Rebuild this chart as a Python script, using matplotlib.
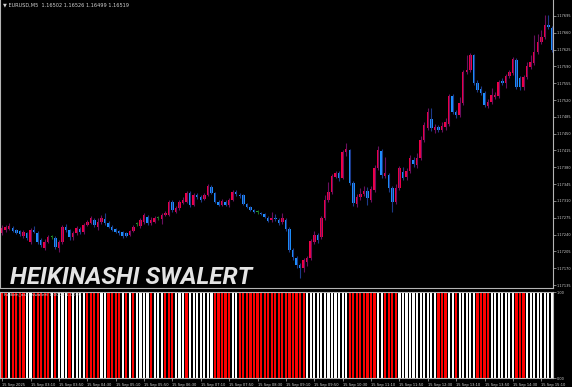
import matplotlib
matplotlib.use("Agg")
from matplotlib import pyplot as plt

# EURUSD M5 Heiken Ashi candles, 15 Sep 02:30 .. 15:25
opens = [1.17243, 1.17250, 1.17252, 1.17254, 1.17250, 1.17248, 1.17237, 1.17243, 1.17225, 1.17250,
         1.17243, 1.17229, 1.17212, 1.17225, 1.17235, 1.17233, 1.17212, 1.17225, 1.17256, 1.17250,
         1.17235, 1.17243, 1.17252, 1.17245, 1.17260, 1.17264, 1.17270, 1.17256, 1.17266, 1.17272,
         1.17264, 1.17256, 1.17252, 1.17248, 1.17245, 1.17243, 1.17239, 1.17248, 1.17262, 1.17258,
         1.17266, 1.17277, 1.17264, 1.17266, 1.17275, 1.17272, 1.17281, 1.17281, 1.17308, 1.17287,
         1.17295, 1.17306, 1.17308, 1.17327, 1.17302, 1.17322, 1.17318, 1.17314, 1.17322, 1.17339,
         1.17327, 1.17308, 1.17302, 1.17308, 1.17302, 1.17312, 1.17329, 1.17322, 1.17322, 1.17304,
         1.17297, 1.17291, 1.17287, 1.17285, 1.17283, 1.17275, 1.17270, 1.17275, 1.17270, 1.17266,
         1.17270, 1.17252, 1.17208, 1.17191, 1.17177, 1.17171, 1.17183, 1.17191, 1.17225, 1.17239,
         1.17235, 1.17275, 1.17312, 1.17329, 1.17360, 1.17368, 1.17358, 1.17412, 1.17416, 1.17347,
         1.17304, 1.17318, 1.17324, 1.17331, 1.17312, 1.17333, 1.17379, 1.17414, 1.17362, 1.17364,
         1.17337, 1.17308, 1.17337, 1.17370, 1.17360, 1.17372, 1.17395, 1.17385, 1.17399, 1.17437,
         1.17462, 1.17480, 1.17458, 1.17464, 1.17458, 1.17464, 1.17470, 1.17528, 1.17495, 1.17489,
         1.17514, 1.17578, 1.17582, 1.17614, 1.17555, 1.17543, 1.17535, 1.17508, 1.17516, 1.17526,
         1.17528, 1.17560, 1.17555, 1.17570, 1.17576, 1.17603, 1.17566, 1.17547, 1.17568, 1.17589,
         1.17597, 1.17620, 1.17641, 1.17651, 1.17676, 1.17670]
highs = [1.17260, 1.17260, 1.17264, 1.17258, 1.17252, 1.17250, 1.17250, 1.17245, 1.17254, 1.17258,
         1.17248, 1.17233, 1.17231, 1.17239, 1.17239, 1.17237, 1.17229, 1.17260, 1.17262, 1.17252,
         1.17248, 1.17258, 1.17256, 1.17264, 1.17270, 1.17279, 1.17275, 1.17275, 1.17281, 1.17285,
         1.17268, 1.17260, 1.17254, 1.17250, 1.17248, 1.17245, 1.17250, 1.17260, 1.17266, 1.17275,
         1.17285, 1.17281, 1.17277, 1.17279, 1.17279, 1.17285, 1.17289, 1.17312, 1.17312, 1.17300,
         1.17312, 1.17318, 1.17331, 1.17331, 1.17327, 1.17327, 1.17322, 1.17327, 1.17345, 1.17343,
         1.17329, 1.17312, 1.17314, 1.17312, 1.17316, 1.17333, 1.17333, 1.17327, 1.17324, 1.17306,
         1.17300, 1.17293, 1.17291, 1.17287, 1.17285, 1.17279, 1.17287, 1.17283, 1.17275, 1.17285,
         1.17275, 1.17256, 1.17212, 1.17196, 1.17181, 1.17191, 1.17196, 1.17231, 1.17248, 1.17243,
         1.17279, 1.17322, 1.17349, 1.17366, 1.17372, 1.17372, 1.17416, 1.17431, 1.17418, 1.17352,
         1.17324, 1.17337, 1.17341, 1.17339, 1.17341, 1.17385, 1.17424, 1.17418, 1.17401, 1.17368,
         1.17341, 1.17345, 1.17383, 1.17381, 1.17379, 1.17406, 1.17401, 1.17410, 1.17445, 1.17474,
         1.17503, 1.17503, 1.17470, 1.17468, 1.17474, 1.17483, 1.17532, 1.17532, 1.17499, 1.17526,
         1.17582, 1.17614, 1.17618, 1.17616, 1.17562, 1.17549, 1.17539, 1.17522, 1.17545, 1.17537,
         1.17562, 1.17566, 1.17574, 1.17582, 1.17609, 1.17607, 1.17570, 1.17572, 1.17599, 1.17614,
         1.17655, 1.17657, 1.17666, 1.17697, 1.17697, 1.17674]
lows = [1.17239, 1.17245, 1.17250, 1.17245, 1.17241, 1.17237, 1.17233, 1.17229, 1.17220, 1.17243,
        1.17220, 1.17214, 1.17208, 1.17223, 1.17231, 1.17210, 1.17204, 1.17220, 1.17245, 1.17229,
        1.17229, 1.17239, 1.17241, 1.17241, 1.17258, 1.17262, 1.17256, 1.17250, 1.17262, 1.17260,
        1.17254, 1.17248, 1.17243, 1.17239, 1.17233, 1.17235, 1.17237, 1.17245, 1.17258, 1.17254,
        1.17262, 1.17260, 1.17260, 1.17264, 1.17270, 1.17262, 1.17279, 1.17279, 1.17287, 1.17285,
        1.17291, 1.17304, 1.17306, 1.17297, 1.17300, 1.17314, 1.17308, 1.17312, 1.17320, 1.17324,
        1.17306, 1.17300, 1.17300, 1.17300, 1.17297, 1.17310, 1.17320, 1.17316, 1.17302, 1.17295,
        1.17289, 1.17285, 1.17283, 1.17281, 1.17275, 1.17266, 1.17266, 1.17268, 1.17260, 1.17262,
        1.17248, 1.17204, 1.17187, 1.17171, 1.17150, 1.17162, 1.17175, 1.17187, 1.17220, 1.17223,
        1.17231, 1.17270, 1.17308, 1.17324, 1.17358, 1.17352, 1.17356, 1.17404, 1.17343, 1.17300,
        1.17297, 1.17312, 1.17320, 1.17302, 1.17308, 1.17329, 1.17374, 1.17358, 1.17358, 1.17329,
        1.17287, 1.17304, 1.17333, 1.17354, 1.17354, 1.17368, 1.17381, 1.17379, 1.17395, 1.17433,
        1.17458, 1.17456, 1.17451, 1.17453, 1.17453, 1.17458, 1.17466, 1.17491, 1.17483, 1.17485,
        1.17510, 1.17574, 1.17578, 1.17551, 1.17537, 1.17530, 1.17505, 1.17503, 1.17512, 1.17522,
        1.17524, 1.17551, 1.17545, 1.17566, 1.17572, 1.17543, 1.17541, 1.17541, 1.17564, 1.17584,
        1.17593, 1.17616, 1.17636, 1.17647, 1.17668, 1.17620]
closes = [1.17254, 1.17256, 1.17258, 1.17248, 1.17243, 1.17241, 1.17245, 1.17233, 1.17250, 1.17245,
          1.17225, 1.17218, 1.17225, 1.17235, 1.17235, 1.17214, 1.17225, 1.17256, 1.17250, 1.17235,
          1.17243, 1.17254, 1.17245, 1.17260, 1.17266, 1.17275, 1.17260, 1.17266, 1.17275, 1.17264,
          1.17256, 1.17250, 1.17245, 1.17243, 1.17237, 1.17237, 1.17248, 1.17256, 1.17262, 1.17270,
          1.17281, 1.17264, 1.17270, 1.17275, 1.17275, 1.17281, 1.17285, 1.17308, 1.17291, 1.17295,
          1.17308, 1.17312, 1.17327, 1.17302, 1.17322, 1.17318, 1.17312, 1.17322, 1.17341, 1.17327,
          1.17308, 1.17302, 1.17310, 1.17302, 1.17312, 1.17329, 1.17324, 1.17320, 1.17304, 1.17297,
          1.17291, 1.17287, 1.17287, 1.17283, 1.17277, 1.17268, 1.17275, 1.17272, 1.17264, 1.17275,
          1.17252, 1.17208, 1.17193, 1.17177, 1.17171, 1.17187, 1.17191, 1.17227, 1.17239, 1.17229,
          1.17275, 1.17312, 1.17329, 1.17362, 1.17368, 1.17358, 1.17412, 1.17418, 1.17347, 1.17306,
          1.17318, 1.17324, 1.17331, 1.17316, 1.17335, 1.17379, 1.17416, 1.17364, 1.17368, 1.17337,
          1.17308, 1.17337, 1.17379, 1.17358, 1.17372, 1.17399, 1.17387, 1.17399, 1.17437, 1.17468,
          1.17495, 1.17462, 1.17464, 1.17458, 1.17466, 1.17474, 1.17528, 1.17495, 1.17489, 1.17514,
          1.17578, 1.17582, 1.17614, 1.17555, 1.17541, 1.17535, 1.17510, 1.17516, 1.17530, 1.17530,
          1.17557, 1.17555, 1.17570, 1.17578, 1.17605, 1.17547, 1.17547, 1.17568, 1.17591, 1.17599,
          1.17620, 1.17641, 1.17651, 1.17676, 1.17672, 1.17624]

# swalert sub-window: R = red bar, W = white bar
signal = ("RRWRRRRWWR" "RRRRWRWWWR" "WWWWRRRRWW" "RRRRWRWRWW" "WWRWWWRRRW"
          "WWRWWW" "WWWW" "RRRRR" "WW" "RRRRRRRRRRRRRRRRRRR" "WWWWWWWWWWWW"
          "RRRRRRRR" "WW" "RRRR" "WWWWWWWWWWW" "RRR" "WW" "R" "WWWWW" "RRRR"
          "WWWWWWW" "RRR" "WWWWWWWW")

price_levels = [1.17135, 1.17170, 1.17205, 1.17240, 1.17275, 1.17310, 1.17345, 1.17380, 1.17415,
                1.17450, 1.17485, 1.17520, 1.17555, 1.17590, 1.17625, 1.17660, 1.17695]
time_pos = [0, 8, 16, 24, 32, 40, 48, 56, 64, 72, 80, 88, 96, 104, 112, 120, 128, 136, 144, 152]
time_labels = ["15 Sep 2025", "15 Sep 03:10", "15 Sep 03:50", "15 Sep 04:30", "15 Sep 05:10",
               "15 Sep 05:50", "15 Sep 06:30", "15 Sep 07:10", "15 Sep 07:50", "15 Sep 08:30",
               "15 Sep 09:10", "15 Sep 09:50", "15 Sep 10:30", "15 Sep 11:10", "15 Sep 11:50",
               "15 Sep 12:30", "15 Sep 13:10", "15 Sep 13:50", "15 Sep 14:30", "15 Sep 15:10"]

UP = "#f00048"
DOWN = "#1e90ff"
DOJI = "#22a030"
AXC = "#b4b4b4"
TXT = "#d2d2d2"

fig = plt.figure(figsize=(5.72, 3.87), dpi=100, facecolor="black")
ax = fig.add_axes([0, 99 / 387, 553 / 572, 288 / 387], facecolor="black")
ax2 = fig.add_axes([0, 9 / 387, 553 / 572, 86 / 387], facecolor="black")

idx = list(range(len(opens)))
body_col, wick_col, bottoms, heights = [], [], [], []
for o, c in zip(opens, closes):
    if c > o:
        body_col.append(UP)
        wick_col.append("#6b0f5e")
    elif c < o:
        body_col.append(DOWN)
        wick_col.append("#1c3a8a")
    else:
        body_col.append(DOJI)
        wick_col.append("#1a6a20")
    bottoms.append(min(o, c))
    heights.append(max(abs(c - o), 0.000022))

ax.vlines(idx, lows, highs, colors=wick_col, linewidth=0.8)
ax.bar(idx, heights, bottom=bottoms, width=0.7, color=body_col, linewidth=0)

ax.set_xlim(-0.6, 155.3)
ax.set_ylim(1.17129, 1.17728)
ax.yaxis.tick_right()
ax.set_yticks(price_levels)
ax.set_yticklabels(["%.5f" % p for p in price_levels])
ax.tick_params(axis="y", direction="out", length=2, width=0.5, colors=AXC,
               labelsize=2.5, labelcolor=TXT, pad=0.8)
ax.set_xticks([])
ax.spines["top"].set_visible(False)
for side in ["left", "right", "bottom"]:
    ax.spines[side].set_color(AXC)
    ax.spines[side].set_linewidth(0.8)

# sub-window bars
bar_cols = ["#ff0000" if s == "R" else "#ffffff" for s in signal]
ax2.bar(idx, [1.0] * len(signal), width=0.62, color=bar_cols, linewidth=0)
ax2.set_xlim(-0.6, 155.3)
ax2.set_ylim(0, 1)
ax2.yaxis.tick_right()
ax2.set_yticks([0, 1])
ax2.set_yticklabels(["0.00", "1.00"])
ax2.tick_params(axis="y", direction="out", length=2, width=0.5, colors=AXC,
                labelsize=2.5, labelcolor=TXT, pad=0.8)
ax2.set_xticks(time_pos)
ax2.set_xticklabels(time_labels, ha="left")
ax2.tick_params(axis="x", direction="out", length=2.5, width=0.5, colors=AXC,
                labelsize=2.6, labelcolor=TXT, pad=1)
for side in ["left", "right", "bottom", "top"]:
    ax2.spines[side].set_color(AXC)
    ax2.spines[side].set_linewidth(0.8)

fig.text(3 / 572, 1 - 5 / 387, "\u25bc EURUSD,M5  1.16502 1.16526 1.16499 1.16519",
         fontsize=3.6, color=TXT, va="center")
fig.text(4 / 572, 1 - 294 / 387, "heiken_ashi_swalert 1.0000 1.0000",
         fontsize=3.2, color=TXT, va="center")
fig.text(10 / 572, 1 - 284 / 387, "HEIKINASHI SWALERT", fontsize=17.6,
         fontweight="bold", style="italic", color="#e4e4e4",
         family=["Roboto", "DejaVu Sans"], va="baseline")

fig.savefig("out.png", dpi=100, facecolor="black")
